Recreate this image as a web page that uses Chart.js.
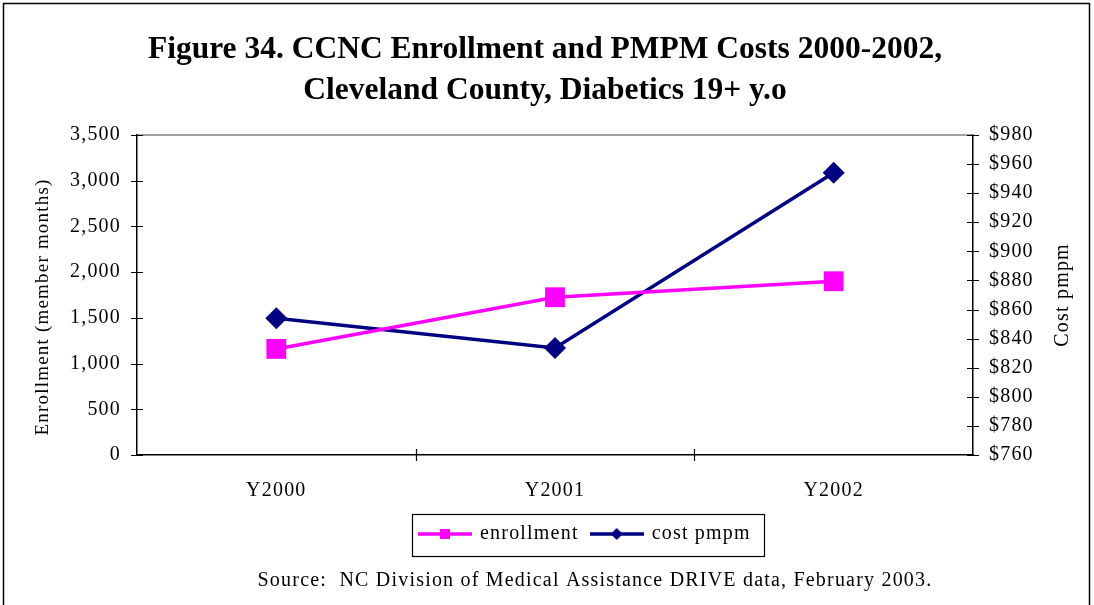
<!DOCTYPE html>
<html><head><meta charset="utf-8">
<script src="https://cdn.jsdelivr.net/npm/chart.js@4.4.1/dist/chart.umd.min.js"></script>
<style>html,body{margin:0;padding:0;background:#fff;}#wrap{width:1094px;height:605px;}</style>
</head><body><div id="wrap"><canvas id="c" width="1094" height="605"></canvas></div>
<script>
const categories = ['Y2000', 'Y2001', 'Y2002'];
const enrollment = [1160, 1725, 1900];
const costPmpm = [854, 833.5, 954];
const enrollmentTicks = [0, 500, 1000, 1500, 2000, 2500, 3000, 3500];
const costTicks = [760, 780, 800, 820, 840, 860, 880, 900, 920, 940, 960, 980];
const titleLines = ['Figure 34. CCNC Enrollment and PMPM Costs 2000-2002,', 'Cleveland County, Diabetics 19+ y.o'];
const sourceText = 'Source:  NC Division of Medical Assistance DRIVE data, February 2003.';
const leftAxisTitle = 'Enrollment (member months)';
const rightAxisTitle = 'Cost pmpm';

const PINK = '#FF00FF', NAVY = '#000080';
const FONT = 'Liberation Serif, Times New Roman, serif';
const SPACING = '1.2px';

function legendIcon(color, shape) {
  const c = document.createElement('canvas');
  c.width = 54; c.height = 14;
  const g = c.getContext('2d');
  g.strokeStyle = color; g.lineWidth = 3.5;
  g.beginPath(); g.moveTo(0, 7); g.lineTo(54, 7); g.stroke();
  g.fillStyle = color;
  if (shape === 'rect') { g.fillRect(22, 2, 10, 10); }
  else { g.beginPath(); g.moveTo(27, 1); g.lineTo(33, 7); g.lineTo(27, 13); g.lineTo(21, 7); g.closePath(); g.fill(); }
  return c;
}
const iconEnroll = legendIcon(PINK, 'rect');
const iconCost = legendIcon(NAVY, 'diamond');

function rotatedText(ctx, text, x, y, size) {
  ctx.save();
  ctx.fillStyle = '#000';
  ctx.font = size + 'px ' + FONT;
  ctx.textAlign = 'center'; ctx.textBaseline = 'middle';
  ctx.translate(x, y);
  ctx.rotate(-Math.PI / 2);
  ctx.fillText(text, 0, 0);
  ctx.restore();
}

const decor = {
  id: 'decor',
  beforeUpdate(chart) { chart.ctx.letterSpacing = SPACING; },
  afterUpdate(chart) {
    const lg = chart.legend, hb = lg.legendHitBoxes;
    if (hb && hb.length) {
      const dx = 420 - hb[0].left, dy = 524 - hb[0].top;
      lg.left += dx; lg.right += dx; lg.top += dy; lg.bottom += dy;
      hb.forEach(h => { h.left += dx; h.top += dy; });
    }
    const sub = chart.boxes.find(b => b !== chart.legend && b.options && b.options.text === sourceText);
    if (sub) {
      const lh = 20 * 1.2, pt = sub.options.padding.top !== undefined ? sub.options.padding.top : 0;
      const dy = 581 - (sub.top + pt + lh / 2);
      const dx = 50;
      sub.top += dy; sub.bottom += dy; sub.left += dx; sub.right += dx;
    }
    const tb = chart.titleBlock;
    if (tb && !tb._wrapped) {
      const orig = tb.draw.bind(tb);
      tb.draw = function () { const c = chart.ctx; c.letterSpacing = '0px'; orig(); c.letterSpacing = SPACING; };
      tb._wrapped = true;
    }
  },
  beforeDraw(chart) {
    const ctx = chart.ctx;
    ctx.letterSpacing = SPACING;
    ctx.save();
    ctx.strokeStyle = '#000'; ctx.lineWidth = 1.5;
    ctx.strokeRect(3.5, 3.5, 1086, 640);
    ctx.restore();
  },
  afterDraw(chart) {
    const ctx = chart.ctx;
    const a = chart.chartArea;
    const y = chart.scales.y, y1 = chart.scales.y1, x = chart.scales.x;
    ctx.save();
    ctx.strokeStyle = '#808080'; ctx.lineWidth = 1.5;
    ctx.beginPath(); ctx.moveTo(a.left, a.top); ctx.lineTo(a.right, a.top); ctx.stroke();
    ctx.strokeStyle = '#000'; ctx.lineWidth = 1.2;
    ctx.beginPath();
    enrollmentTicks.forEach(v => { const p = Math.round(y.getPixelForValue(v)) + 0.5; ctx.moveTo(a.left - 6, p); ctx.lineTo(a.left + 6, p); });
    costTicks.forEach(v => { const p = Math.round(y1.getPixelForValue(v)) + 0.5; ctx.moveTo(a.right - 6, p); ctx.lineTo(a.right + 6, p); });
    for (let i = 0; i < categories.length - 1; i++) {
      const p = Math.round((x.getPixelForValue(i) + x.getPixelForValue(i + 1)) / 2) + 0.5;
      ctx.moveTo(p, a.bottom - 6); ctx.lineTo(p, a.bottom + 6);
    }
    ctx.stroke();
    ctx.restore();
    rotatedText(ctx, leftAxisTitle, a.left - 94, (a.top + a.bottom) / 2 + 12, 19);
    rotatedText(ctx, rightAxisTitle, a.right + 90, (a.top + a.bottom) / 2, 20);
    const hb = chart.legend.legendHitBoxes;
    if (hb && hb.length) {
      const l = hb[0].left - 8, r = hb[hb.length - 1].left + hb[hb.length - 1].width + 13;
      const t = hb[0].top - 10, b = hb[0].top + hb[0].height + 12;
      ctx.save(); ctx.strokeStyle = '#000'; ctx.lineWidth = 1.2;
      ctx.strokeRect(Math.round(l) + 0.5, Math.round(t) + 0.5, Math.round(r - l), Math.round(b - t));
      ctx.restore();
    }
  }
};

Chart.defaults.font.family = FONT;
Chart.defaults.color = '#000';

new Chart(document.getElementById('c'), {
  type: 'line',
  data: {
    labels: categories,
    datasets: [
      { label: 'enrollment', data: enrollment, yAxisID: 'y', borderColor: PINK, backgroundColor: PINK,
        borderWidth: 3.5, pointStyle: 'rect', pointRadius: 14, pointBorderWidth: 0, pointHoverRadius: 14, tension: 0 },
      { label: 'cost pmpm', data: costPmpm, yAxisID: 'y1', borderColor: NAVY, backgroundColor: NAVY,
        borderWidth: 3.5, pointStyle: 'rectRot', pointRadius: 11, pointBorderWidth: 0, pointHoverRadius: 11, tension: 0 }
    ]
  },
  options: {
    responsive: false,
    animation: false,
    events: [],
    layout: { padding: { left: 22, right: 26, top: 0, bottom: 0 } },
    plugins: {
      tooltip: { enabled: false },
      title: { display: true, text: titleLines, font: { size: 31.5, weight: 'bold', family: FONT, lineHeight: 1.3 },
               color: '#000', padding: { top: 29, bottom: 24 } },
      subtitle: { display: true, position: 'bottom', text: sourceText, font: { size: 20, family: FONT }, color: '#000',
                  padding: { top: 9, bottom: 2 } },
      legend: {
        position: 'bottom',
        labels: {
          font: { size: 20, family: FONT }, color: '#000', usePointStyle: true, pointStyleWidth: 50, boxHeight: 14,
          padding: 13,
          generateLabels(chart) {
            return chart.data.datasets.map((d, i) => ({
              text: d.label, pointStyle: i === 0 ? iconEnroll : iconCost, datasetIndex: i,
              fillStyle: d.borderColor, strokeStyle: d.borderColor, lineWidth: 0, hidden: false, fontColor: '#000'
            }));
          }
        }
      }
    },
    scales: {
      x: {
        offset: true,
        grid: { display: false, drawTicks: false },
        border: { display: true, color: '#000', width: 1.5 },
        ticks: { font: { size: 20, family: FONT }, color: '#000', padding: 24 }
      },
      y: {
        position: 'left', min: 0, max: 3500,
        afterBuildTicks(s) { s.ticks = enrollmentTicks.map(v => ({ value: v })); },
        afterFit(s) { s.width = 115; },
        grid: { display: false, drawTicks: false },
        border: { display: true, color: '#000', width: 1.5 },
        ticks: { font: { size: 20, family: FONT }, color: '#000', padding: 16,
                 callback: v => v.toLocaleString('en-US') }
      },
      y1: {
        position: 'right', min: 760, max: 980,
        afterBuildTicks(s) { s.ticks = costTicks.map(v => ({ value: v })); },
        afterFit(s) { s.width = 95; },
        grid: { display: false, drawTicks: false },
        border: { display: true, color: '#000', width: 1.5 },
        ticks: { font: { size: 20, family: FONT }, color: '#000', padding: 16, callback: v => '$' + v }
      }
    }
  },
  plugins: [decor]
});
</script></body></html>
